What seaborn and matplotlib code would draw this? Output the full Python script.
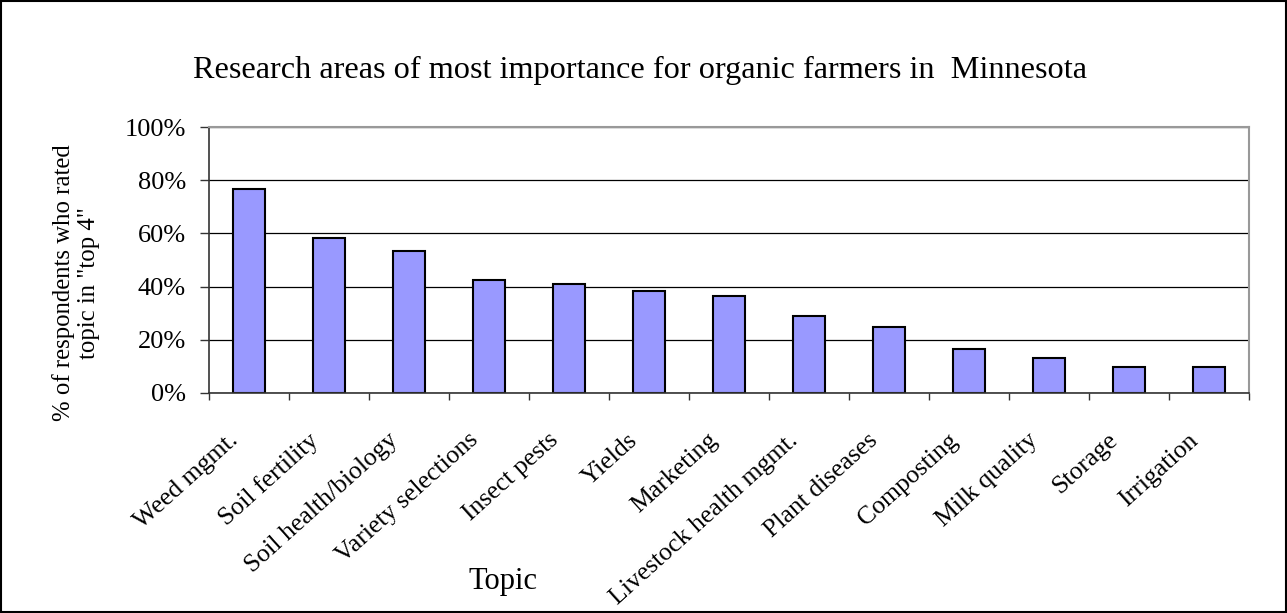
import pandas as pd
import seaborn as sns
import matplotlib.pyplot as plt
from matplotlib.ticker import PercentFormatter

sns.set_style("white")
plt.rcParams['font.family'] = ['Liberation Serif', 'DejaVu Serif']
plt.rcParams.update({"text.color": "black", "axes.labelcolor": "black",
                     "xtick.color": "black", "ytick.color": "black"})

topics = ["Weed mgmt.", "Soil fertility", "Soil health/biology", "Variety selections",
          "Insect pests", "Yields", "Marketing", "Livestock health mgmt.",
          "Plant diseases", "Composting", "Milk quality", "Storage", "Irrigation"]
pct = [76.7, 58.2, 53.4, 42.5, 41.1, 38.4, 36.5, 28.8, 24.7, 16.4, 13.2, 9.6, 9.6]

df = pd.DataFrame({"topic": topics, "pct": pct})

fig = plt.figure(figsize=(12.87, 6.13), dpi=100)
ax = fig.add_axes([0.1624, 0.3589, 0.8081, 0.4339])

sns.barplot(data=df, x="topic", y="pct", color="#9999FF", edgecolor="black",
            linewidth=1.5, width=0.41, saturation=1, ax=ax)

ax.set_xlim(-0.5, len(topics) - 0.5)
ax.set_ylim(0, 100)
ax.set_yticks(range(0, 101, 20))
ax.yaxis.set_major_formatter(PercentFormatter(decimals=0))
ax.yaxis.grid(True, color="black", linewidth=0.9)
ax.set_axisbelow(True)

# category ticks at boundaries (Excel style); labels nudged left like Excel does
ax.set_xticks([i - 0.5 for i in range(len(topics) + 1)])
ax.set_xticklabels([])
ax.set_xticks([i - 0.27 for i in range(len(topics))], minor=True)
ax.set_xticklabels(topics, minor=True, rotation=42, ha="right", rotation_mode="anchor",
                   fontsize=18.5)
ax.tick_params(axis="x", which="major", direction="out", length=5, width=1, color="#333333",
               bottom=True)
ax.tick_params(axis="x", which="minor", length=0, pad=26)
ax.tick_params(axis="y", direction="out", length=6.5, width=1, color="#333333", left=True,
               labelsize=19, pad=10)

for s in ["left", "bottom"]:
    ax.spines[s].set_color("#333333")
    ax.spines[s].set_linewidth(1.2)
for s in ["top", "right"]:
    ax.spines[s].set_color("#999999")
    ax.spines[s].set_linewidth(1.5)

ax.set_xlabel("Topic", fontsize=22)
ax.xaxis.set_label_coords(0.283, -0.655)
ax.set_ylabel("")
fig.text(76 / 1287, 1 - 283 / 613, '% of respondents who rated\ntopic in "top 4"',
         rotation=90, ha="center", va="center", fontsize=17.8, linespacing=1.12)

fig.text(640 / 1287, 1 - 70 / 613, "Research areas of most importance for organic farmers in  Minnesota",
         ha="center", va="center", fontsize=23.2)

fig.patches.append(plt.Rectangle((0.001, 0.001), 0.998, 0.998, transform=fig.transFigure,
                                 fill=False, edgecolor="black", linewidth=1.5))

plt.savefig("out.png", dpi=100)
